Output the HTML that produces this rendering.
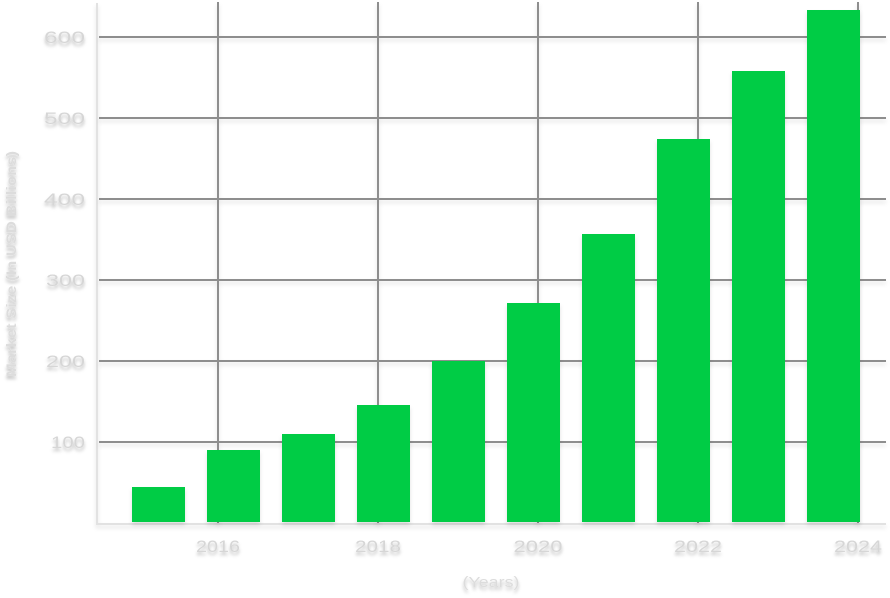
<!DOCTYPE html>
<html><head><meta charset="utf-8"><style>
html,body{margin:0;padding:0;background:#fff;}
svg{display:block;}
text{font-family:"Liberation Sans","DejaVu Sans",sans-serif;}
</style></head><body>
<svg width="890" height="598" viewBox="0 0 890 598" xmlns="http://www.w3.org/2000/svg">
<defs>
<filter id="ls" x="-5%" y="-200%" width="110%" height="500%">
<feDropShadow dx="0" dy="3" stdDeviation="2" flood-color="#000" flood-opacity="0.12"/>
</filter>
<filter id="ts" x="-20%" y="-50%" width="140%" height="220%">
<feDropShadow dx="0" dy="3" stdDeviation="1.6" flood-color="#000" flood-opacity="0.25"/>
</filter>
<filter id="bs" x="-10%" y="-5%" width="120%" height="115%">
<feDropShadow dx="0" dy="3" stdDeviation="2" flood-color="#000" flood-opacity="0.12"/>
</filter>
</defs>
<g filter="url(#ls)">
<line x1="97" y1="3" x2="97" y2="524" stroke="#e2e2e2" stroke-width="2"/>
<line x1="96" y1="524" x2="886" y2="524" stroke="#e2e2e2" stroke-width="2"/>
</g>
<g stroke="#8e8e8e" stroke-width="2" filter="url(#ls)">
<line x1="99" y1="37" x2="886" y2="37"/>
<line x1="99" y1="118" x2="886" y2="118"/>
<line x1="99" y1="199" x2="886" y2="199"/>
<line x1="99" y1="280" x2="886" y2="280"/>
<line x1="99" y1="361" x2="886" y2="361"/>
<line x1="99" y1="442" x2="886" y2="442"/>
<line x1="218" y1="2" x2="218" y2="523"/>
<line x1="378" y1="2" x2="378" y2="523"/>
<line x1="538" y1="2" x2="538" y2="523"/>
<line x1="698" y1="2" x2="698" y2="523"/>
<line x1="858" y1="2" x2="858" y2="523"/>
</g>
<g fill="#00cc44" filter="url(#bs)">
<rect x="132" y="487" width="53" height="35"/>
<rect x="207" y="450" width="53" height="72"/>
<rect x="282" y="434" width="53" height="88"/>
<rect x="357" y="405" width="53" height="117"/>
<rect x="432" y="361" width="53" height="161"/>
<rect x="507" y="303" width="53" height="219"/>
<rect x="582" y="234" width="53" height="288"/>
<rect x="657" y="139" width="53" height="383"/>
<rect x="732" y="71" width="53" height="451"/>
<rect x="807" y="10" width="53" height="512"/>
</g>
<g fill="#d6d6d6" font-size="17" text-anchor="end" filter="url(#ts)">
<text x="85" y="43" textLength="41" lengthAdjust="spacingAndGlyphs">600</text>
<text x="85" y="124" textLength="41" lengthAdjust="spacingAndGlyphs">500</text>
<text x="85" y="205" textLength="41" lengthAdjust="spacingAndGlyphs">400</text>
<text x="85" y="286" textLength="39" lengthAdjust="spacingAndGlyphs">300</text>
<text x="85" y="367" textLength="39" lengthAdjust="spacingAndGlyphs">200</text>
<text x="85" y="448" textLength="34" lengthAdjust="spacingAndGlyphs">100</text>
</g>
<g fill="#d6d6d6" font-size="17" text-anchor="middle" filter="url(#ts)">
<text x="218" y="552" textLength="44" lengthAdjust="spacingAndGlyphs">2016</text>
<text x="378" y="552" textLength="46" lengthAdjust="spacingAndGlyphs">2018</text>
<text x="538" y="552" textLength="49" lengthAdjust="spacingAndGlyphs">2020</text>
<text x="698" y="552" textLength="48" lengthAdjust="spacingAndGlyphs">2022</text>
<text x="858" y="552" textLength="48" lengthAdjust="spacingAndGlyphs">2024</text>
</g>
<g fill="#dcdcdc" filter="url(#ts)">
<text x="491" y="587" font-size="15" text-anchor="middle" textLength="57" lengthAdjust="spacingAndGlyphs">(Years)</text>
<text transform="translate(16,264) rotate(-90)" x="0" y="0" font-size="14" font-weight="bold" text-anchor="middle" textLength="226" lengthAdjust="spacingAndGlyphs">Market Size (In USD Billions)</text>
</g>
</svg>
</body></html>
